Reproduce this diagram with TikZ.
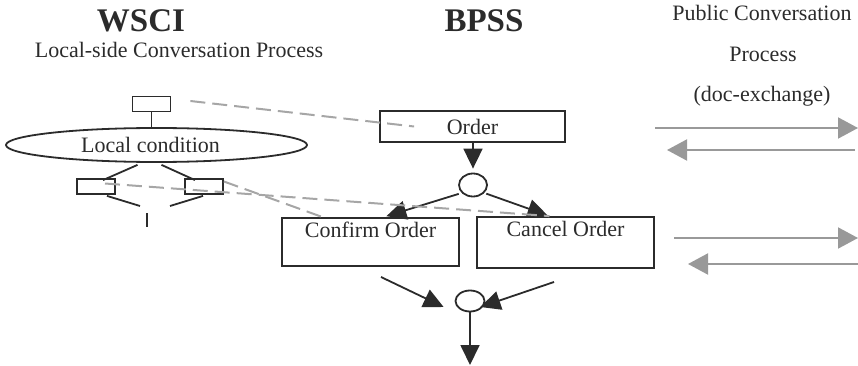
\documentclass[tikz,border=0pt]{standalone}
\usepackage{fontspec}
\setmainfont{Liberation Serif}
\usetikzlibrary{shapes.geometric,arrows.meta}

\definecolor{ink}{HTML}{2B2B2B}
\definecolor{msg}{HTML}{999999}
\definecolor{trace}{HTML}{A6A6A6}

\tikzset{
  txt/.style={font=\fontsize{22}{26}\selectfont, text=ink, inner sep=0pt},
  ttl/.style={font=\fontsize{33}{36}\selectfont\bfseries, text=ink, inner sep=0pt},
  box/.style={draw=ink, line width=1.8pt, txt, inner sep=0pt},
  tinybox/.style={draw=ink, line width=1.8pt, inner sep=0pt, minimum width=38, minimum height=15},
  junct/.style={ellipse, draw=ink, line width=1.8pt, inner sep=0pt},
  wire/.style={ink, line width=1.8pt},
  flow/.style={ink, line width=1.8pt, -{Triangle[length=20pt, width=19pt]}},
  exch/.style={msg, line width=2pt, -{Triangle[length=20pt, width=21pt]}},
  mapto/.style={trace, line width=2pt, dash pattern=on 15pt off 7pt}
}

\begin{document}
\begin{tikzpicture}[x=1pt, y=-1pt]

  \useasboundingbox (0,0) rectangle (858,366);

  % column headings
  \node[ttl, anchor=base] (wsci)   at (141, 32) {WSCI};
  \node[txt, anchor=base] (wscisub) at (179, 58) {Local-side Conversation Process};
  \node[ttl, anchor=base] (bpss)   at (484, 32) {BPSS};
  \node[txt, anchor=base] (pub1)   at (762, 21) {Public Conversation};
  \node[txt, anchor=base] (pub2)   at (763, 62) {Process};
  \node[txt, anchor=base] (pub3)   at (762, 102) {(doc-exchange)};

  % local side
  \node[tinybox] (wtop)   at (151.5, 104) {};
  \node[junct, minimum width=301, minimum height=34, txt] (cond) at (156.5, 145) {Local condition\hspace*{12pt}};
  \node[tinybox] (wleft)  at ( 96, 186.5) {};
  \node[tinybox] (wright) at (204, 186.5) {};

  \coordinate (wjl)   at (140, 206);
  \coordinate (wjr)   at (170, 206);
  \coordinate (wj)    at (147, 213);
  \coordinate (wjend) at (147, 227);

  \draw[wire] (wtop.south) -- (cond.north -| wtop.south);
  \draw[wire] ([xshift=-19, yshift=-2]cond.south) -- ([xshift=7, yshift=-2]wleft.north);
  \draw[wire] ([xshift= 5, yshift=-2]cond.south) -- ([xshift=-9, yshift=-2]wright.north);
  \draw[wire] ([xshift=11, yshift=-1]wleft.south) -- (wjl);
  \draw[wire] ([xshift=-1, yshift=-1]wright.south) -- (wjr);
  \draw[wire] (wj) -- (wjend);

  % BPSS flow
  \node[box, minimum width=185, minimum height=31] (order) at (472.5, 126.5) {Order};
  \node[junct, minimum width=28, minimum height=23] (fork) at (473, 185) {};
  \node[box, minimum width=177, minimum height=48,
        label={[txt, anchor=north, inner sep=5pt]north:Confirm Order}] (confirm) at (370.5, 242) {};
  \node[box, minimum width=177, minimum height=51,
        label={[txt, anchor=north, inner sep=5pt]north:Cancel Order}] (cancel) at (565.5, 242.5) {};
  \node[junct, minimum width=29, minimum height=21] (join) at (470, 301) {};

  \coordinate (cfout)  at (381, 277);
  \coordinate (ccout)  at (554, 282);
  \coordinate (endpt)  at (470, 365);

  \draw[flow, shorten >=4pt] (order.south -| fork.north) -- (fork.north);
  \draw[flow, shorten <=3pt, shorten >=3pt] (fork.215) -- ([xshift=13]confirm.north);
  \draw[flow, shorten <=2pt, shorten >=2pt] (fork.325) -- ([xshift=-16]cancel.north);
  \draw[flow] (cfout) -- ([xshift=-11, yshift=-6]join.west);
  \draw[flow] (ccout) -- ([xshift=-5, yshift=-6]join.east);
  \draw[flow] (join.south) -- (endpt);

  % mapping between the two sides
  \draw[mapto] ([xshift=19, yshift=3]wtop.east) -- ([xshift=35]order.west);
  \draw[mapto] ([xshift=9, yshift=3]wleft.center) -- ([xshift=-16]cancel.north);
  \draw[mapto] ([yshift=5]wright.east) -- ([xshift=-48]confirm.north);

  % document exchange
  \coordinate (ex1a) at (655, 128);
  \coordinate (ex1b) at (858, 128);
  \coordinate (ex2a) at (855, 150);
  \coordinate (ex2b) at (667, 150);
  \coordinate (ex3a) at (674, 238);
  \coordinate (ex3b) at (858, 238);
  \coordinate (ex4a) at (858, 264);
  \coordinate (ex4b) at (688, 264);

  \draw[exch] (ex1a) -- (ex1b);
  \draw[exch] (ex2a) -- (ex2b);
  \draw[exch] (ex3a) -- (ex3b);
  \draw[exch] (ex4a) -- (ex4b);

\end{tikzpicture}
\end{document}
